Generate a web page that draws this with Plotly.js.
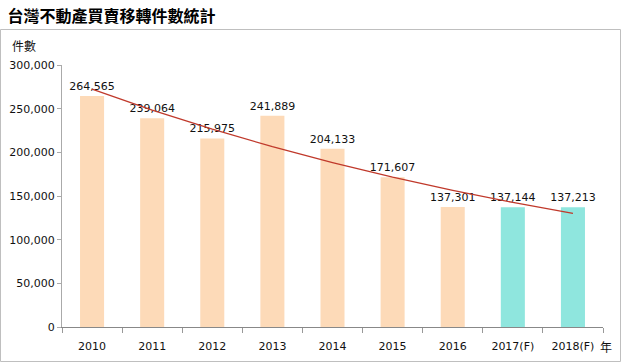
<!DOCTYPE html>
<html><head><meta charset="utf-8">
<script src="https://cdn.plot.ly/plotly-3.0.1.min.js"></script>
<style>html,body{margin:0;padding:0;background:#fff;}#chart{width:622px;height:363px;}</style>
</head><body><div id="chart"></div>
<script>
var years = ['2010','2011','2012','2013','2014','2015','2016','2017(F)','2018(F)'];
var counts = [264565, 239064, 215975, 241889, 204133, 171607, 137301, 137144, 137213];
var labels = ['264,565','239,064','215,975','241,889','204,133','171,607','137,301','137,144','137,213'];
var trend = [272500, 248400, 226500, 206500, 188300, 171600, 156500, 142600, 130000];
var barColors = ['#FDDAB8','#FDDAB8','#FDDAB8','#FDDAB8','#FDDAB8','#FDDAB8','#FDDAB8','#8FE6DE','#8FE6DE'];
var yTicks = [0,50000,100000,150000,200000,250000,300000];
var yTickText = ['0','50,000','100,000','150,000','200,000','250,000','300,000'];

var F = 'DejaVu Sans, Verdana, sans-serif';
var CJK = '"Noto Sans CJK TC", "Noto Sans CJK SC", sans-serif';

var data = [
  {type:'bar', x:years, y:counts, text:labels, textposition:'outside', cliponaxis:false, constraintext:'none',
   textfont:{family:F, size:11, color:'#111'}, marker:{color:barColors}, width:0.4, hoverinfo:'none'},
  {type:'scatter', mode:'lines', x:years, y:trend, line:{color:'#C0392B', width:1.3}, hoverinfo:'none'}
];
var W=541, H=262, L=62, T=65;
function px(x){return (x-L)/W;}
function py(y){return (T+H-y)/H;}
var layout = {
  width:622, height:363, margin:{l:62, r:19, t:65, b:36},
  paper_bgcolor:'#fff', plot_bgcolor:'#fff', showlegend:false, bargap:0.6,
  font:{family:F, size:11, color:'#111'},
  xaxis:{type:'category', showline:true, linecolor:'#888', linewidth:1.3, ticks:'outside', tickson:'boundaries',
    ticklen:5, tickcolor:'#999', ticklabelstandoff:8, showgrid:false, zeroline:false,
    tickfont:{family:F, size:11, color:'#111'}, fixedrange:true},
  yaxis:{range:[0,300000], tickvals:yTicks, ticktext:yTickText, showline:true, linecolor:'#aaa', linewidth:1,
    ticks:'outside', ticklen:4, tickcolor:'#aaa', showgrid:false, zeroline:false,
    tickfont:{family:F, size:11, color:'#111'}, fixedrange:true},
  title:{text:'台灣不動產買賣移轉件數統計', x:0.012, xanchor:'left', y:0.955, yanchor:'middle',
    font:{family:CJK, size:16, color:'#000', weight:'bold'}},
  shapes:[{type:'rect', xref:'paper', yref:'paper', x0:px(0.5), x1:px(620.5), y0:py(361.5), y1:py(29.5),
    line:{color:'#BFBFBF', width:1}, fillcolor:'rgba(0,0,0,0)', layer:'below'}],
  annotations:[
    {text:'件數', xref:'paper', yref:'paper', x:px(10), y:py(45), xanchor:'left', yanchor:'middle', showarrow:false,
     font:{family:CJK, size:12, color:'#111'}},
    {text:'年', xref:'paper', yref:'paper', x:px(598), y:py(346), xanchor:'left', yanchor:'middle', showarrow:false,
     font:{family:CJK, size:12, color:'#111'}}
  ]
};
Plotly.newPlot('chart', data, layout, {staticPlot:true, displayModeBar:false});
</script></body></html>
